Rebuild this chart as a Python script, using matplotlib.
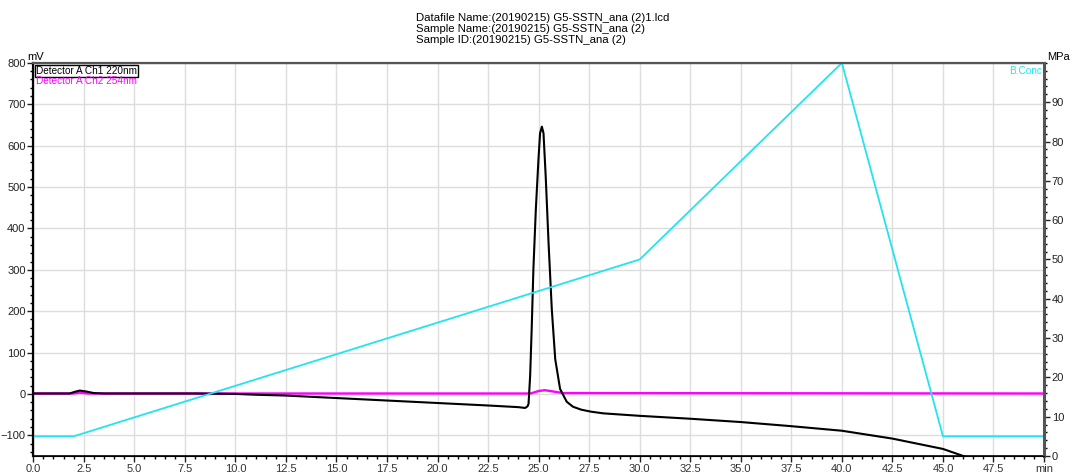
import numpy as np
import matplotlib.pyplot as plt
from matplotlib.ticker import MultipleLocator

plt.rcParams['font.family'] = ['Liberation Sans', 'DejaVu Sans']

# Detector A Ch1 220nm (mV)
ch1_time = [0.0, 1.8, 2.05, 2.3, 2.6, 3.0, 3.5, 5.0, 8.0, 10.0, 11.0, 12.5, 15.0,
            17.5, 20.0, 22.5, 24.0, 24.33, 24.45, 24.5, 24.58, 24.66, 24.74, 24.86,
            24.99, 25.07, 25.16, 25.24, 25.35, 25.49, 25.65, 25.82, 26.06, 26.39,
            26.7, 27.1, 27.6, 28.2, 30.0, 32.5, 35.0, 37.5, 40.0, 42.5, 45.0, 46.0, 47.0]
ch1_mv = [1, 1, 5, 8, 6, 2, 1, 1, 1, 0, -2, -4, -10,
          -16, -22, -28, -32, -34, -30, -24, 44, 164, 301, 445,
          566, 630, 646, 630, 525, 365, 205, 84, 12, -19,
          -31, -38, -43, -47, -53, -60, -68, -78, -89, -108, -133, -150, -165]

# Detector A Ch2 254nm (mV)
ch2_time = [0.0, 2.0, 2.3, 2.7, 24.6, 25.0, 25.3, 25.7, 26.2, 50.0]
ch2_mv = [1, 1, 3, 1, 1, 7, 9, 6, 2, 1]

# Pump B concentration program
bconc_time = [0.0, 2.0, 30.0, 40.0, 45.0, 50.0]
bconc = [5, 5, 50, 100, 5, 5]

header = ["Datafile Name:(20190215) G5-SSTN_ana (2)1.lcd",
          "Sample Name:(20190215) G5-SSTN_ana (2)",
          "Sample ID:(20190215) G5-SSTN_ana (2)"]

fig = plt.figure(figsize=(10.73, 4.73), dpi=100)
ax = fig.add_axes([0.031, 0.036, 0.942, 0.831])
ax2 = ax.twinx()

ax.plot(ch2_time, ch2_mv, color='#FF00FF', lw=1.7, zorder=3)
ax.plot(ch1_time, ch1_mv, color='black', lw=1.5, zorder=4)
ax2.plot(bconc_time, bconc, color='#22E4F0', lw=1.3)

ax.set_xlim(0, 50)
ax.set_ylim(-150, 800)
ax2.set_ylim(0, 100)

xt = np.arange(0, 50.1, 2.5)
ax.set_xticks(xt)
ax.set_xticklabels([f"{v:.1f}" for v in xt[:-1]] + ["min"])
ax.xaxis.set_minor_locator(MultipleLocator(0.5))
ax.set_yticks(np.arange(-100, 801, 100))
ax.yaxis.set_minor_locator(MultipleLocator(20))
ax2.set_yticks(np.arange(0, 91, 10))
ax2.yaxis.set_minor_locator(MultipleLocator(2))

ax.grid(True, which='major', color='#DDDDDD', lw=1)
ax.set_axisbelow(True)

for a in (ax, ax2):
    a.tick_params(which='major', length=4, width=1, labelsize=8, pad=1.5, colors='#222222')
    a.tick_params(which='minor', length=2.5, width=1)
ax.tick_params(axis='x', labelcolor='#333333')

ax.spines['left'].set_linewidth(1.6)
ax.spines['bottom'].set_linewidth(1.2)
ax2.spines['right'].set_linewidth(2.2)
ax2.spines['right'].set_color('#555555')
ax2.spines['top'].set_linewidth(1.6)
ax2.spines['top'].set_color('#555555')

ax.text(-0.006, 1.003, "mV", transform=ax.transAxes, fontsize=8, ha='left', va='bottom')
ax2.text(1.003, 1.003, "MPa", transform=ax2.transAxes, fontsize=8, ha='left', va='bottom')

ax2.text(0.0025, 0.993, "Detector A Ch1 220nm", transform=ax2.transAxes, fontsize=7.2,
         ha='left', va='top', color='black',
         bbox=dict(boxstyle='square,pad=0.1', fc='white', ec='black', lw=1))
ax2.text(0.0025, 0.967, "Detector A Ch2 254nm", transform=ax2.transAxes, fontsize=7.2,
         ha='left', va='top', color='#FF00FF')
ax2.text(0.998, 0.993, "B.Conc", transform=ax2.transAxes, fontsize=7.2,
         ha='right', va='top', color='#22E4F0')

fig.text(0.388, 0.972, "\n".join(header), fontsize=8.2, ha='left', va='top', linespacing=1.12)

fig.savefig("out.png", dpi=100)
